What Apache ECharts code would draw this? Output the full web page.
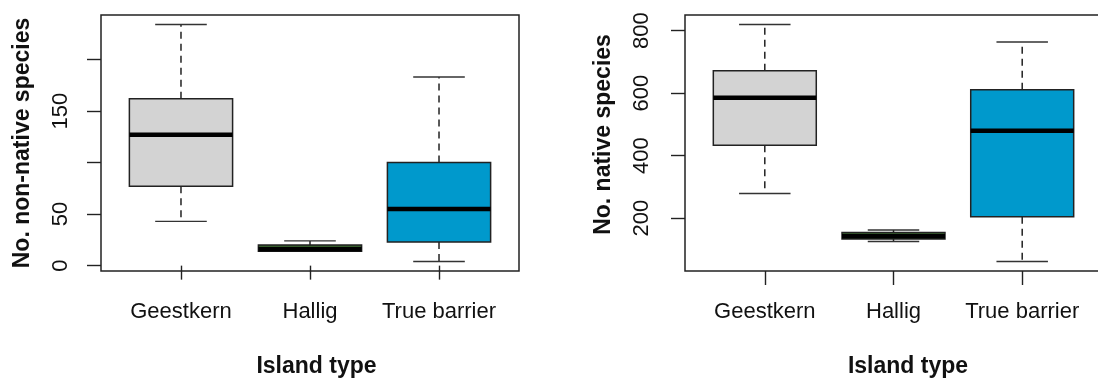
<!DOCTYPE html>
<html><head><meta charset="utf-8">
<script src="https://cdn.jsdelivr.net/npm/echarts@6/dist/echarts.min.js"></script>
<style>html,body{margin:0;padding:0;background:#fff}#c{width:1098px;height:378px}</style>
</head><body><div id="c"></div>
<script>
const categories = ['Geestkern', 'Hallig', 'True barrier'];
const categoryPositions = [1, 2, 3];
// each row: [lower whisker, Q1, median, Q3, upper whisker]
const nonNativeStats = [[43, 77, 127, 162, 234], [14, 14, 16, 20, 24], [4, 23, 55, 100, 183]];
const nativeStats = [[279, 433, 585, 672, 820], [125, 133, 142, 154, 162], [61, 204, 480, 611, 764]];
const boxFills = ['#d3d3d3', '#355e2b', '#0099cc'];
const nonNativeTicks = [0, 50, 100, 150, 200];
const nonNativeTickLabels = [0, 50, 150];
const nativeTicks = [200, 400, 600, 800];
const nativeTickLabels = [200, 400, 600, 800];

const FONT = 'Liberation Sans, Arial, sans-serif';
const INK = '#222';

function toData(stats) {
  return stats.map((s, i) => [categoryPositions[i]].concat(s));
}

function renderBox(params, api) {
  const x = api.value(0);
  const lo = api.value(1), q1 = api.value(2), md = api.value(3), q3 = api.value(4), hi = api.value(5);
  const half = api.size([0.8, 0])[0] / 2;
  const capHalf = half / 2;
  const pLo = api.coord([x, lo]), pQ1 = api.coord([x, q1]), pMd = api.coord([x, md]);
  const pQ3 = api.coord([x, q3]), pHi = api.coord([x, hi]);
  const cx = pLo[0];
  const fill = boxFills[params.dataIndex];
  const dash = { stroke: INK, lineWidth: 1.5, lineDash: [7, 5] };
  const solid = { stroke: '#333', lineWidth: 1.4 };
  return {
    type: 'group',
    children: [
      { type: 'line', shape: { x1: cx, y1: pQ3[1], x2: cx, y2: pHi[1] }, style: dash },
      { type: 'line', shape: { x1: cx, y1: pQ1[1], x2: cx, y2: pLo[1] }, style: dash },
      { type: 'line', shape: { x1: cx - capHalf, y1: pHi[1], x2: cx + capHalf, y2: pHi[1] }, style: solid },
      { type: 'line', shape: { x1: cx - capHalf, y1: pLo[1], x2: cx + capHalf, y2: pLo[1] }, style: solid },
      { type: 'rect', shape: { x: cx - half, y: pQ3[1], width: 2 * half, height: pQ1[1] - pQ3[1] },
        style: { fill: fill, stroke: INK, lineWidth: 1.5 } },
      { type: 'line', shape: { x1: cx - half, y1: pMd[1], x2: cx + half, y2: pMd[1] },
        style: { stroke: '#000', lineWidth: 4.5 } }
    ]
  };
}

function xAxisCfg(gridIndex, namePad) {
  return {
    type: 'value', gridIndex: gridIndex, min: 0.38, max: 3.62,
    axisLine: { show: false }, splitLine: { show: false },
    axisTick: { show: true, customValues: categoryPositions, length: 14, lineStyle: { color: INK, width: 1.4 } },
    axisLabel: { show: true, customValues: categoryPositions, margin: 30, fontSize: 22, color: '#111', fontFamily: FONT,
      formatter: v => categories[Math.round(v) - 1] },
    name: 'Island type', nameLocation: 'middle', nameGap: 84,
    nameTextStyle: { fontSize: 23, fontWeight: 'bold', color: '#111', fontFamily: FONT, padding: [0, 0, 0, namePad] }
  };
}

function yAxisCfg(gridIndex, min, max, ticks, labels, name, labelMargin, nameGap, namePad) {
  return {
    type: 'value', gridIndex: gridIndex, min: min, max: max,
    axisLine: { show: false }, splitLine: { show: false },
    axisTick: { show: true, customValues: ticks, length: 14, lineStyle: { color: INK, width: 1.4 } },
    axisLabel: { show: true, customValues: labels, rotate: 90, margin: labelMargin, fontSize: 22, color: '#111', fontFamily: FONT },
    name: name, nameLocation: 'middle', nameGap: nameGap,
    nameTextStyle: { fontSize: 23, fontWeight: 'bold', color: '#111', fontFamily: FONT, padding: namePad }
  };
}

const chart = echarts.init(document.getElementById('c'), null, { renderer: 'canvas' });
chart.setOption({
  backgroundColor: '#fff',
  animation: false,
  grid: [
    { left: 101, top: 15, width: 418, height: 256, show: true, borderColor: INK, borderWidth: 1.5,
      backgroundColor: 'transparent', containLabel: false, outerBoundsMode: 'none' },
    { left: 685, top: 15, width: 417, height: 256, show: true, borderColor: INK, borderWidth: 1.5,
      backgroundColor: 'transparent', containLabel: false, outerBoundsMode: 'none' }
  ],
  xAxis: [xAxisCfg(0, 13), xAxisCfg(1, 29)],
  yAxis: [
    yAxisCfg(0, -5.2, 243.2, nonNativeTicks, nonNativeTickLabels, 'No. non-native species', 29, 67, [0, 0, 0, 0]),
    yAxisCfg(1, 30.64, 850.36, nativeTicks, nativeTickLabels, 'No. native species', 32, 70, [0, 0, 0, 17])
  ],
  series: [
    { type: 'custom', xAxisIndex: 0, yAxisIndex: 0, renderItem: renderBox, data: toData(nonNativeStats),
      encode: { x: 0, y: [1, 2, 3, 4, 5] }, clip: false },
    { type: 'custom', xAxisIndex: 1, yAxisIndex: 1, renderItem: renderBox, data: toData(nativeStats),
      encode: { x: 0, y: [1, 2, 3, 4, 5] }, clip: false }
  ]
});
</script></body></html>
